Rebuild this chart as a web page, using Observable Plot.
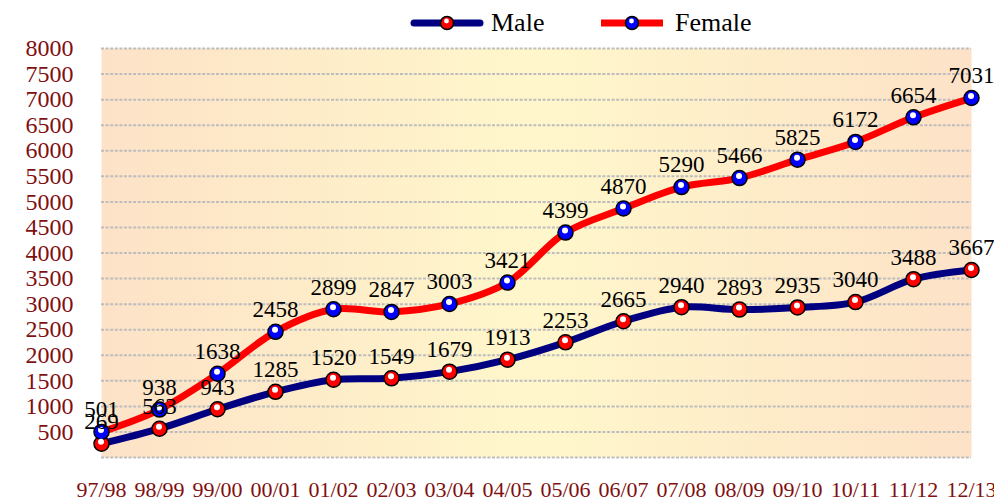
<!DOCTYPE html>
<html>
<head>
<meta charset="utf-8">
<script src="https://cdn.jsdelivr.net/npm/d3@7"></script>
<script src="https://cdn.jsdelivr.net/npm/@observablehq/plot@0.6"></script>
<style>
  html, body { margin: 0; padding: 0; background: #fff; }
  #legend { position: relative; width: 994px; height: 36px; font-family: "Liberation Serif", "Times New Roman", serif; }
  #legend .lbl { font-size: 26px; color: #000; position: absolute; top: 6px; line-height: 34px; }
  #chart svg { overflow: visible; }
</style>
</head>
<body>
<div id="legend"></div>
<div id="chart"></div>
<script>
const years = ["97/98","98/99","99/00","00/01","01/02","02/03","03/04","04/05","05/06","06/07","07/08","08/09","09/10","10/11","11/12","12/13"];
const male = [269, 563, 943, 1285, 1520, 1549, 1679, 1913, 2253, 2665, 2940, 2893, 2935, 3040, 3488, 3667];
const female = [501, 938, 1638, 2458, 2899, 2847, 3003, 3421, 4399, 4870, 5290, 5466, 5825, 6172, 6654, 7031];
const yTicks = [500, 1000, 1500, 2000, 2500, 3000, 3500, 4000, 4500, 5000, 5500, 6000, 6500, 7000, 7500, 8000];
const gridValues = [0, 500, 1000, 1500, 2000, 2500, 3000, 3500, 4000, 4500, 5000, 5500, 6000, 6500, 7000, 7500, 8000];
const seriesNames = ["Male", "Female"];
const lineColors = {Male: "#000080", Female: "#ff0000"};
const dotColors = {Male: "#ff0000", Female: "#0000ff"};

const rows = years.flatMap((yr, i) => [
  {year: yr, value: male[i], series: "Male"},
  {year: yr, value: female[i], series: "Female"}
]);
const maleRows = rows.filter(d => d.series === "Male");
const femaleRows = rows.filter(d => d.series === "Female");

const serif = "'Liberation Serif', 'Times New Roman', serif";

const svg = Plot.plot({
  width: 994,
  height: 463,
  marginTop: 12,
  marginBottom: 42,
  marginLeft: 101,
  marginRight: 23,
  style: {background: "transparent", overflow: "visible", fontFamily: serif},
  x: {type: "point", domain: years, padding: 0, tickSize: 0, tickPadding: 24, label: null},
  y: {domain: [0, 8000], ticks: yTicks, tickSize: 0, tickPadding: 28, label: null, tickFormat: d => String(d)},
  marks: [
    Plot.frame({fill: "url(#bgGrad)", stroke: "none"}),
    Plot.ruleY(gridValues, {stroke: "#bdbdbd", strokeWidth: 2, strokeDasharray: "3,1.6"}),
    Plot.line(maleRows, {x: "year", y: "value", stroke: lineColors.Male, strokeWidth: 7, curve: "catmull-rom", strokeLinecap: "round"}),
    Plot.line(femaleRows, {x: "year", y: "value", stroke: lineColors.Female, strokeWidth: 7, curve: "catmull-rom", strokeLinecap: "round"}),
    Plot.dot(rows, {x: "year", y: "value", r: 7.5, fill: d => dotColors[d.series], stroke: "#000", strokeWidth: 1.5}),
    Plot.dot(rows, {x: "year", y: "value", r: 3, fill: "#fff", dx: -0.5, dy: -2}),
    Plot.text(rows, {x: "year", y: "value", text: d => String(d.value), dy: -22, fontSize: 23, fill: "#000", fontFamily: serif})
  ]
});

// gradient background
const defs = d3.select(svg).insert("defs", ":first-child");
const grad = defs.append("linearGradient").attr("id", "bgGrad").attr("x1", "0").attr("x2", "1").attr("y1", "0").attr("y2", "0");
grad.append("stop").attr("offset", "0%").attr("stop-color", "#fde2c7");
grad.append("stop").attr("offset", "50%").attr("stop-color", "#fff7cb");
grad.append("stop").attr("offset", "100%").attr("stop-color", "#fde2c7");

// axis text styling
d3.select(svg).selectAll('g[aria-label^="y-axis"] text').attr("font-size", 24).attr("fill", "#7f1010").style("font-size", "24px");
d3.select(svg).selectAll('g[aria-label^="x-axis"] text').attr("font-size", 22).attr("fill", "#7f1010").style("font-size", "22px");
d3.select(svg).selectAll('g[aria-label^="y-axis"], g[aria-label^="x-axis"]').attr("fill", "#7f1010");

document.getElementById("chart").appendChild(svg);

// legend
const legend = d3.select("#legend");
const items = [
  {name: seriesNames[0], left: 410, w: 74, lblLeft: 491, cap: "round"},
  {name: seriesNames[1], left: 600, w: 64, lblLeft: 675, cap: "butt"}
];
items.forEach(it => {
  const s = legend.append("svg").attr("width", it.w).attr("height", 20)
    .style("position", "absolute").style("left", it.left + "px").style("top", "13px");
  s.append("line").attr("x1", it.cap === "round" ? 4 : 1).attr("x2", it.w - (it.cap === "round" ? 4 : 1))
    .attr("y1", 10).attr("y2", 10).attr("stroke", lineColors[it.name]).attr("stroke-width", 7).attr("stroke-linecap", it.cap);
  s.append("circle").attr("cx", it.w / 2).attr("cy", 10).attr("r", 6.5).attr("fill", dotColors[it.name]).attr("stroke", "#000").attr("stroke-width", 1.5);
  s.append("circle").attr("cx", it.w / 2 - 0.5).attr("cy", 8).attr("r", 2.4).attr("fill", "#fff");
  legend.append("div").attr("class", "lbl").style("left", it.lblLeft + "px").text(it.name);
});
</script>
</body>
</html>
